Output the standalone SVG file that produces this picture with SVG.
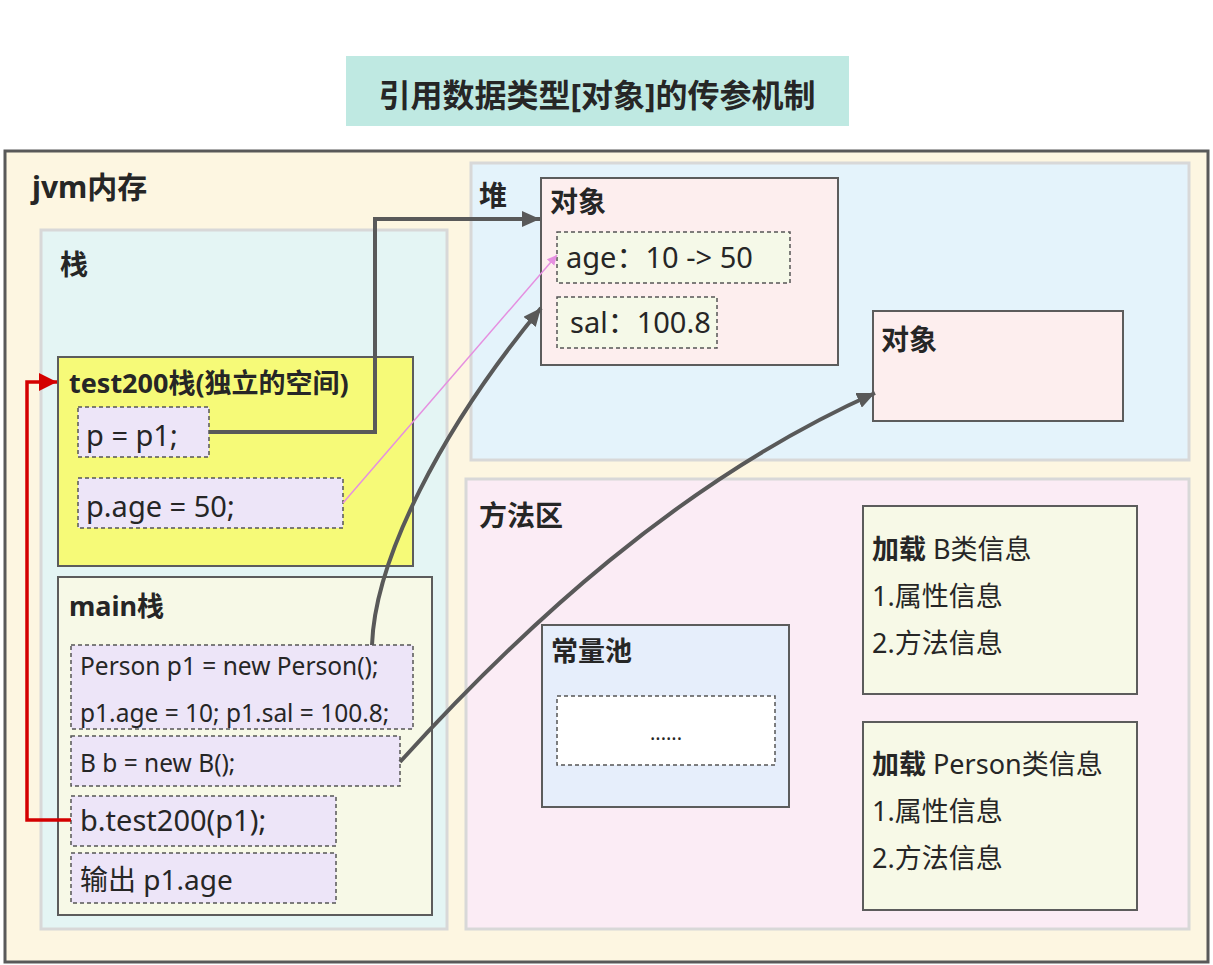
<svg xmlns="http://www.w3.org/2000/svg" width="1213" height="965" viewBox="0 0 1213 965">
<defs>
<style>
text{font-family:"Noto Sans","Noto Sans CJK SC",sans-serif;fill:#262626}
.b{font-weight:bold}
.t28{font-size:28px}
.t29{font-size:29px}
.t27{font-size:27px}
.t24{font-size:24.5px}
.area{stroke:#d8d8d8;stroke-width:3}
.node{stroke:#5c5c5c;stroke-width:2}
.dash{stroke:#555;stroke-width:1.5;stroke-dasharray:4 3}
.conn{fill:none;stroke:#595959;stroke-width:4}
</style>
<marker id="ah" markerUnits="userSpaceOnUse" markerWidth="20" markerHeight="16" refX="18" refY="8" orient="auto">
<path d="M0,0 L18,8 L0,16 Z" fill="#595959"/>
</marker>
<marker id="ahr" markerUnits="userSpaceOnUse" markerWidth="20" markerHeight="18" refX="18" refY="9" orient="auto">
<path d="M0,0 L18,9 L0,18 Z" fill="#d40000"/>
</marker>
<marker id="ahp" markerUnits="userSpaceOnUse" markerWidth="12" markerHeight="10" refX="10" refY="5" orient="auto">
<path d="M0,0 L10,5 L0,10 Z" fill="#e58fe0"/>
</marker>
</defs>
<rect width="1213" height="965" fill="#ffffff"/>

<g id="title">
<rect x="346" y="56" width="503" height="70" fill="#bfe9e2"/>
<text x="597" y="107" text-anchor="middle" class="b" style="font-size:32px">引用数据类型[对象]的传参机制</text>
</g>

<g id="jvm">
<rect x="5" y="151" width="1203" height="811" fill="#fdf6e1" stroke="#595959" stroke-width="3"/>
<text x="32" y="198" class="b" style="font-size:30px">jvm内存</text>
</g>

<g id="stack">
<rect x="41" y="230" width="406" height="699" fill="#e4f5f4" class="area"/>
<text x="60" y="275" class="b t28">栈</text>
</g>

<g id="test200">
<rect x="58" y="357" width="355" height="209" fill="#f6fa78" class="node"/>
<text x="69" y="393" class="b t27">test200栈(独立的空间)</text>
</g>
<g id="p_eq_p1">
<rect x="78" y="407" width="131" height="50" fill="#ede5f8" class="dash"/>
<text x="86" y="446" class="t29">p = p1;</text>
</g>
<g id="p_age">
<rect x="78" y="478" width="265" height="50" fill="#ede5f8" class="dash"/>
<text x="86" y="517" class="t29">p.age = 50;</text>
</g>

<g id="main">
<rect x="58" y="577" width="374" height="338" fill="#f7f9e7" class="node"/>
<text x="69" y="616" class="b t27">main栈</text>
</g>
<g id="person_new">
<rect x="71" y="645" width="342" height="84" fill="#ede5f8" class="dash"/>
<text x="80" y="675" class="t24">Person p1 = new Person();</text>
<text x="80" y="722" class="t24">p1.age = 10; p1.sal = 100.8;</text>
</g>
<g id="b_new">
<rect x="71" y="736" width="329" height="50" fill="#ede5f8" class="dash"/>
<text x="80" y="772" class="t24">B b = new B();</text>
</g>
<g id="b_test200">
<rect x="71" y="796" width="265" height="50" fill="#ede5f8" class="dash"/>
<text x="80" y="831" class="t29">b.test200(p1);</text>
</g>
<g id="output">
<rect x="71" y="853" width="265" height="50" fill="#ede5f8" class="dash"/>
<text x="80" y="890" class="t28">输出 p1.age</text>
</g>

<g id="heap">
<rect x="471" y="163" width="718" height="297" fill="#e4f3fb" class="area"/>
<text x="479" y="206" class="b t28">堆</text>
</g>
<g id="obj1">
<rect x="541" y="178" width="297" height="187" fill="#fdeeee" class="node"/>
<text x="550" y="212" class="b t28">对象</text>
</g>
<g id="age">
<rect x="557" y="232" width="233" height="51" fill="#f5f9e8" class="dash"/>
<text x="566" y="268" class="t29">age：10 -&gt; 50</text>
</g>
<g id="sal">
<rect x="557" y="297" width="160" height="51" fill="#f5f9e8" class="dash"/>
<text x="570" y="333" class="t29">sal：100.8</text>
</g>
<g id="obj2">
<rect x="873" y="311" width="250" height="110" fill="#fdeeee" class="node"/>
<text x="881" y="350" class="b t28">对象</text>
</g>

<g id="method">
<rect x="466" y="479" width="723" height="450" fill="#fbecf5" class="area"/>
<text x="479" y="526" class="b t28">方法区</text>
</g>
<g id="pool">
<rect x="542" y="625" width="247" height="182" fill="#e6eefb" class="node"/>
<text x="551" y="661" class="b t27">常量池</text>
<rect x="557" y="696" width="218" height="69" fill="#ffffff" class="dash"/>
<text x="666" y="740" text-anchor="middle" style="font-size:20px">......</text>
</g>
<g id="classB">
<rect x="863" y="506" width="274" height="188" fill="#f7f9e7" class="node"/>
<text x="872" y="559" class="t27"><tspan class="b">加载</tspan> B类信息</text>
<text x="872" y="606" class="t27">1.属性信息</text>
<text x="872" y="653" class="t27">2.方法信息</text>
</g>
<g id="classPerson">
<rect x="863" y="722" width="274" height="188" fill="#f7f9e7" class="node"/>
<text x="872" y="774" class="t27"><tspan class="b">加载</tspan> Person类信息</text>
<text x="872" y="821" class="t27">1.属性信息</text>
<text x="872" y="868" class="t27">2.方法信息</text>
</g>

<g id="connectors">
<path class="conn" d="M209,432 H375 V219 H540" marker-end="url(#ah)"/>
<path d="M343,503 L557,255" fill="none" stroke="#e58fe0" stroke-width="1.5" marker-end="url(#ahp)"/>
<path class="conn" d="M372,645 C375,560 440,430 541,308" marker-end="url(#ah)"/>
<path class="conn" d="M400,762 C520,630 680,480 875,393" marker-end="url(#ah)"/>
<path d="M71,820 H27 V382 H57" fill="none" stroke="#d40000" stroke-width="3.5" marker-end="url(#ahr)"/>
</g>
</svg>
